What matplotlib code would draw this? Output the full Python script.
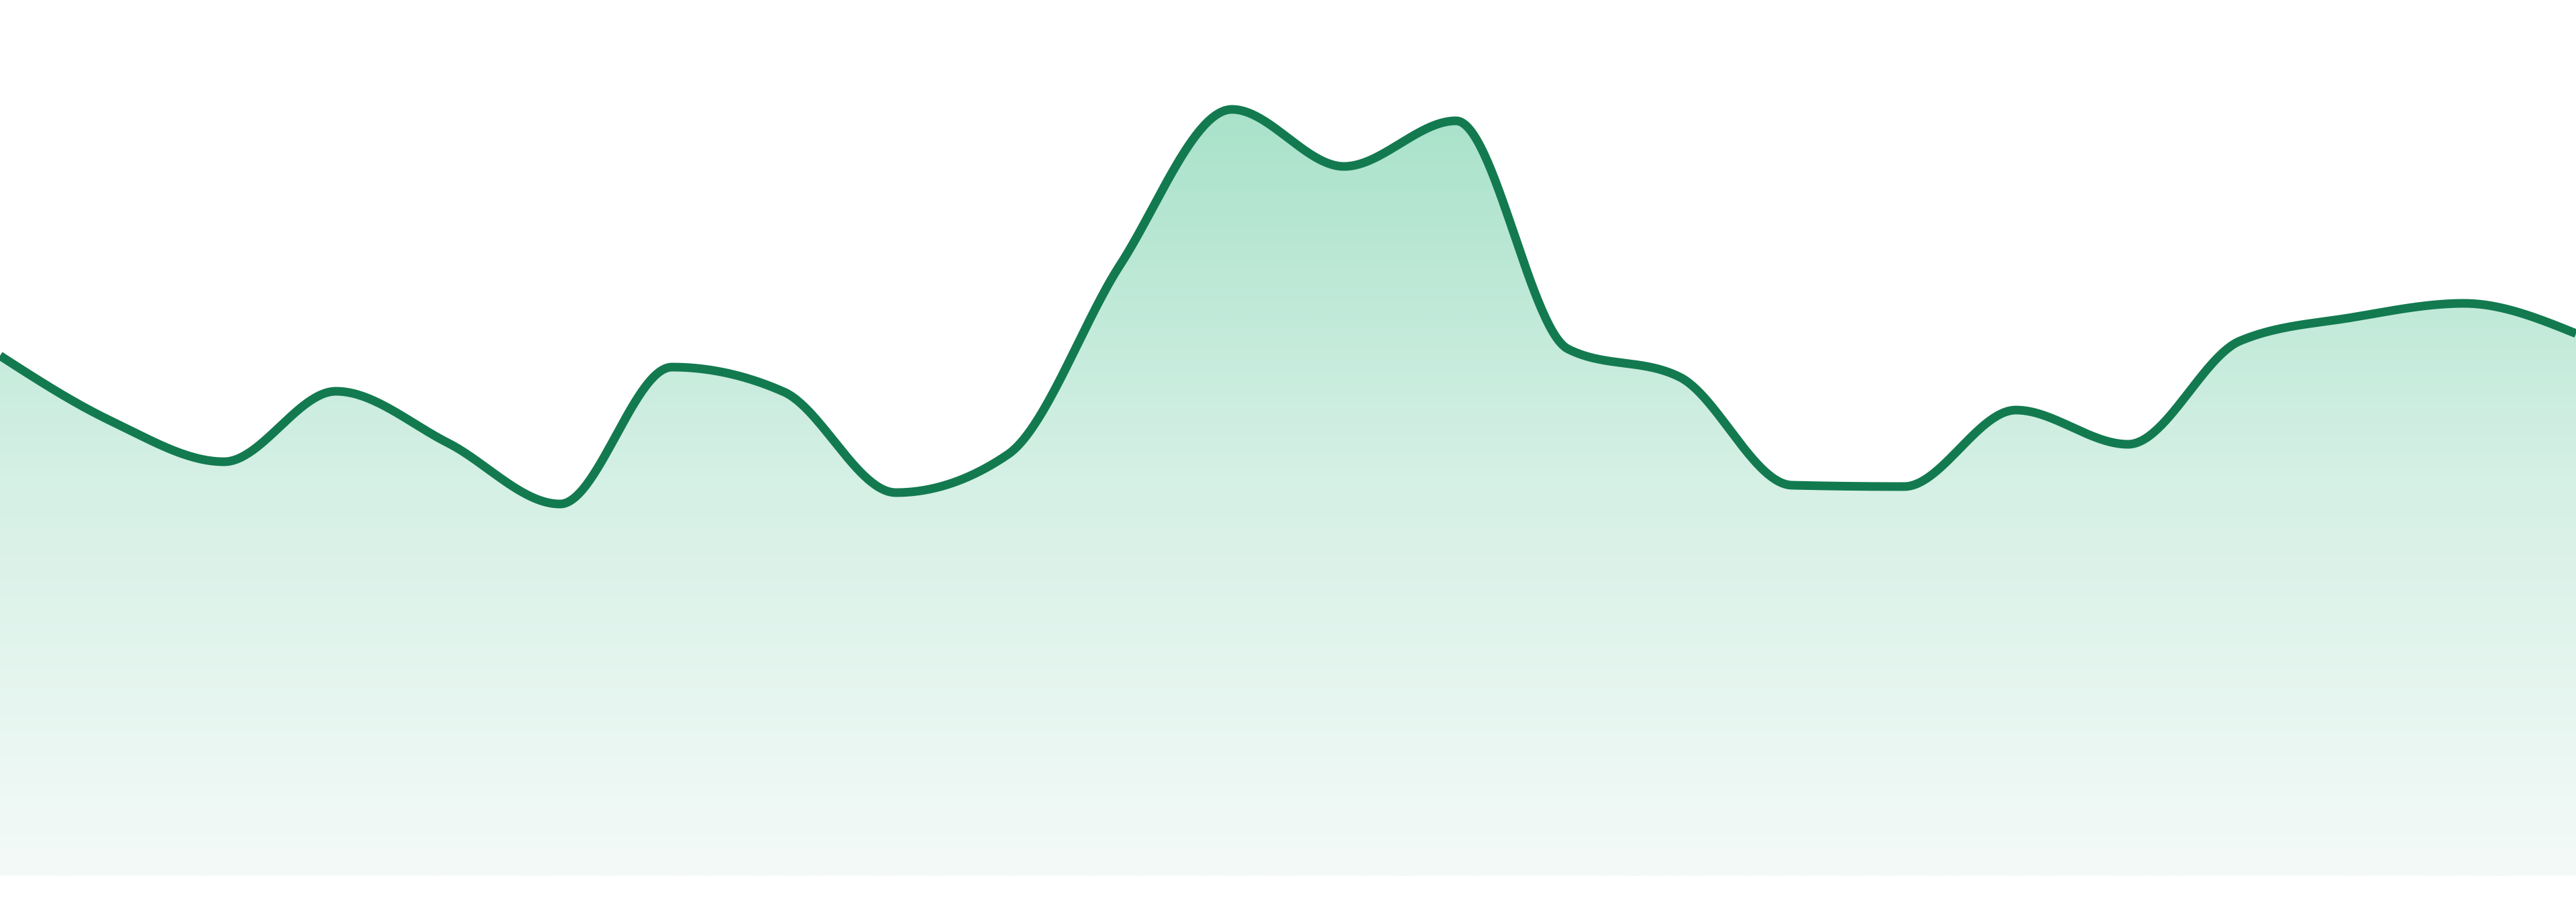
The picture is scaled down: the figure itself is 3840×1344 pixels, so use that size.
import matplotlib
matplotlib.use("Agg")
import matplotlib.pyplot as plt
import numpy as np
from matplotlib.patches import Polygon
from matplotlib.colors import LinearSegmentedColormap

# 24 evenly spaced samples
x_index = list(range(24))
values = [77.5, 67.7, 61.7, 72.2, 64.5, 55.4, 75.8, 72.1, 57.1, 62.8, 91.0, 114.2,
          105.7, 112.5, 78.5, 74.3, 58.2, 58.0, 69.4, 64.3, 79.7, 83.2, 85.3, 80.8]
y_max = 130.5

line_color = "#137a50"


def monotone_x(xs, ys, per_seg=60):
    # same tangents as d3.curveMonotoneX (Steffen)
    xs = np.asarray(xs, dtype=float)
    ys = np.asarray(ys, dtype=float)
    n = len(xs)
    h = np.diff(xs)
    s = np.diff(ys) / h
    t = np.zeros(n)
    for i in range(1, n - 1):
        p = (s[i - 1] * h[i] + s[i] * h[i - 1]) / (h[i - 1] + h[i])
        sg = (1 if s[i - 1] >= 0 else -1) + (1 if s[i] >= 0 else -1)
        t[i] = sg * min(abs(s[i - 1]), abs(s[i]), 0.5 * abs(p))
    t[0] = (3 * s[0] - t[1]) / 2
    t[-1] = (3 * s[-1] - t[-2]) / 2
    out_x, out_y = [], []
    for i in range(n - 1):
        u = np.linspace(0, 1, per_seg, endpoint=(i == n - 2))
        dx = h[i]
        h00 = 2 * u**3 - 3 * u**2 + 1
        h10 = u**3 - 2 * u**2 + u
        h01 = -2 * u**3 + 3 * u**2
        h11 = u**3 - u**2
        out_x.append(xs[i] + u * dx)
        out_y.append(h00 * ys[i] + h10 * dx * t[i] + h01 * ys[i + 1] + h11 * dx * t[i + 1])
    return np.concatenate(out_x), np.concatenate(out_y)


def main():
    fig = plt.figure(figsize=(38.4, 13.44), dpi=100)
    ax = fig.add_axes([0, 39 / 1344, 1, 1305 / 1344])
    ax.set_xlim(x_index[0], x_index[-1])
    ax.set_ylim(0, y_max)
    ax.axis("off")

    cx, cy = monotone_x(x_index, values)

    # gradient area under the curve
    top = max(values)
    cmap = LinearSegmentedColormap.from_list(
        "mint", [(0.0, "#f4faf8"), (0.52, "#d5f0e5"), (1.0, "#a9e2ca")])
    grad = np.linspace(0, 1, 512).reshape(-1, 1)
    im = ax.imshow(grad, cmap=cmap, aspect="auto", origin="lower",
                   extent=[x_index[0], x_index[-1], 0, top], zorder=1)
    poly = Polygon(np.column_stack([np.r_[cx, cx[-1], cx[0]], np.r_[cy, 0, 0]]),
                   closed=True, facecolor="none", edgecolor="none")
    ax.add_patch(poly)
    im.set_clip_path(poly)

    ax.plot(cx, cy, color=line_color, linewidth=9.3, solid_capstyle="butt",
            solid_joinstyle="round", zorder=3, clip_on=False)

    fig.savefig("out.png", dpi=100, facecolor="white")


if __name__ == "__main__":
    main()
